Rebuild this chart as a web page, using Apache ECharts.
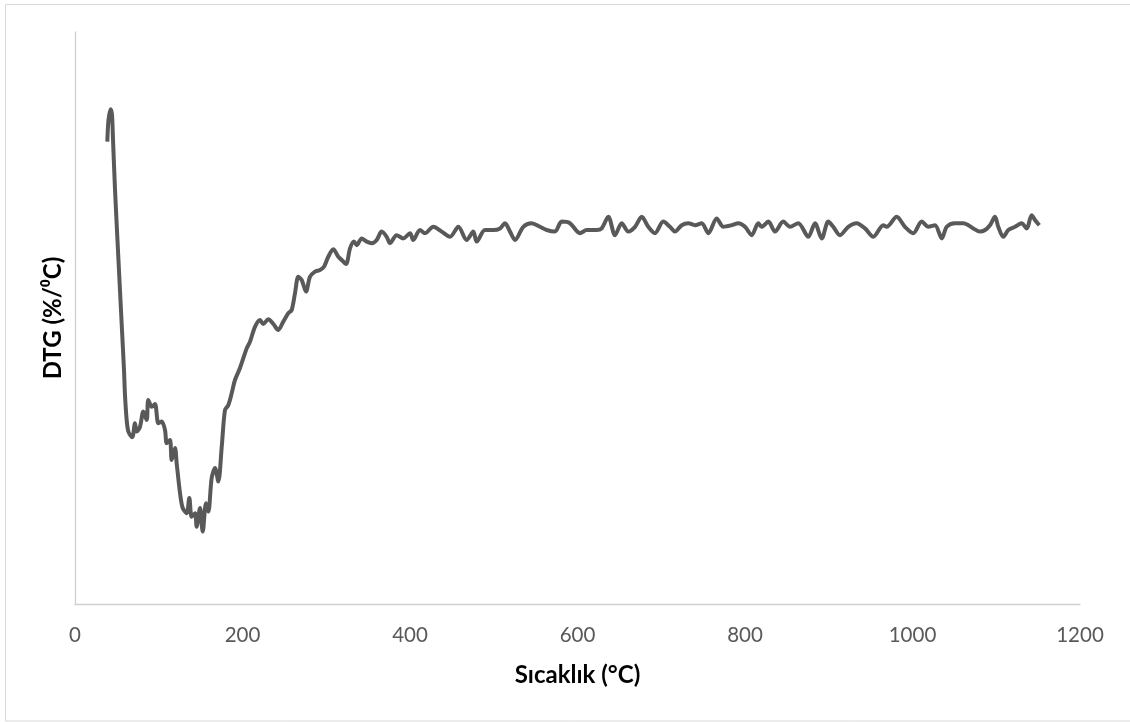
<!DOCTYPE html>
<html>
<head>
<meta charset="utf-8">
<script src="https://cdn.jsdelivr.net/npm/echarts@6/dist/echarts.min.js"></script>
<style>
html,body{margin:0;padding:0;background:#fff;}
#chart{width:1130px;height:722px;}
</style>
</head>
<body>
<div id="chart"></div>
<script>
// Temperature (°C)
const temperature = [
38.6,40.0,42.6,44.2,45.4,47.8,50.7,53.7,56.1,58.5,59.7,61.7,63.9,68.4,71.6,73.7,77.6,81.6,85.6,87.5,
91.6,95.5,99.5,103.5,107.5,109.5,113.4,115.5,119.4,121.4,125.4,128.6,133.4,136.5,139.3,143.3,145.3,149.3,152.5,156.4,
159.2,163.2,167.2,171.1,175.2,179.1,183.0,187.1,191.0,197.0,205.0,209.0,214.9,220.9,224.8,230.8,236.8,242.7,248.7,254.7,
258.7,262.7,266.6,270.7,275.8,280.6,286.6,292.5,297.3,302.4,308.4,314.4,318.4,323.6,328.4,333.1,336.4,342.3,348.3,354.3,
360.2,366.2,372.2,376.1,384.1,392.0,400.0,403.9,411.9,417.9,427.8,437.8,447.8,457.7,467.7,475.6,479.6,489.5,499.5,507.5,
513.4,519.4,525.4,535.3,545.3,555.2,563.2,573.1,581.1,591.0,603.0,611.0,622.9,628.9,636.8,644.8,652.8,660.7,668.7,676.7,
684.5,692.5,702.4,710.4,716.4,724.4,732.3,740.3,748.3,756.2,766.2,774.1,784.1,792.0,800.0,808.0,815.9,819.9,827.9,835.8,
845.7,853.7,863.6,875.6,883.6,891.6,899.5,905.4,913.4,923.3,933.3,943.3,953.2,965.1,969.2,981.1,991.0,1000.9,1011.0,1018.9,
1026.9,1034.9,1040.9,1050.7,1060.7,1066.7,1072.6,1080.6,1086.6,1092.5,1098.5,1102.4,1108.4,1114.4,1122.4,1130.3,1136.3,1142.3,1146.2,1151.4
];
// DTG (%/°C)
const dtg = [
-0.274,-0.220,-0.193,-0.208,-0.270,-0.395,-0.520,-0.645,-0.745,-0.845,-0.908,-0.970,-1.000,-1.013,-0.978,-0.999,-0.987,-0.949,-0.970,-0.920,
-0.937,-0.930,-0.978,-0.974,-0.995,-1.028,-1.020,-1.070,-1.040,-1.078,-1.153,-1.190,-1.203,-1.165,-1.212,-1.203,-1.237,-1.190,-1.249,-1.178,
-1.199,-1.115,-1.090,-1.124,-1.037,-0.945,-0.933,-0.903,-0.870,-0.840,-0.791,-0.774,-0.737,-0.720,-0.730,-0.718,-0.730,-0.745,-0.724,-0.703,
-0.695,-0.653,-0.612,-0.620,-0.649,-0.612,-0.599,-0.595,-0.587,-0.562,-0.543,-0.562,-0.570,-0.580,-0.541,-0.524,-0.533,-0.516,-0.524,-0.528,
-0.520,-0.499,-0.512,-0.528,-0.508,-0.516,-0.503,-0.520,-0.495,-0.503,-0.487,-0.499,-0.512,-0.487,-0.520,-0.499,-0.524,-0.495,-0.495,-0.491,
-0.478,-0.499,-0.520,-0.487,-0.478,-0.487,-0.495,-0.499,-0.474,-0.478,-0.503,-0.495,-0.495,-0.491,-0.462,-0.508,-0.478,-0.499,-0.487,-0.462,
-0.487,-0.503,-0.474,-0.487,-0.499,-0.483,-0.478,-0.483,-0.478,-0.503,-0.466,-0.487,-0.483,-0.478,-0.487,-0.508,-0.478,-0.487,-0.474,-0.499,
-0.474,-0.487,-0.478,-0.512,-0.478,-0.516,-0.474,-0.487,-0.508,-0.487,-0.478,-0.491,-0.512,-0.483,-0.487,-0.462,-0.487,-0.503,-0.474,-0.487,
-0.483,-0.516,-0.487,-0.478,-0.478,-0.483,-0.491,-0.499,-0.495,-0.483,-0.462,-0.487,-0.512,-0.495,-0.487,-0.478,-0.491,-0.458,-0.470,-0.483
];
const xTicks = [0, 200, 400, 600, 800, 1000, 1200];
const xTitle = 'Sıcaklık (°C)';
const yTitle = 'DTG (%/⁰C)';

const seriesData = temperature.map((t, i) => [t, dtg[i]]);
const chart = echarts.init(document.getElementById('chart'), null, {renderer: 'canvas'});
const font = 'Lato, "Open Sans", "DejaVu Sans", sans-serif';
chart.setOption({
  animation: false,
  backgroundColor: '#ffffff',
  graphic: [{
    type: 'rect', shape: {x: 5.5, y: 4.5, width: 1140, height: 716.5},
    style: {fill: 'none', stroke: '#d9d9d9', lineWidth: 1}, silent: true, z: -1
  }],
  grid: {left: 75, right: 50, top: 32, bottom: 118, containLabel: false},
  xAxis: {
    type: 'value', min: xTicks[0], max: xTicks[xTicks.length - 1], interval: 200,
    name: xTitle, nameLocation: 'middle', nameGap: 59,
    nameTextStyle: {fontFamily: font, fontWeight: 'bold', fontSize: 24, color: '#000'},
    axisLine: {show: true, onZero: false, lineStyle: {color: '#d0d0d0', width: 1.3}},
    axisTick: {show: false},
    splitLine: {show: false},
    axisLabel: {fontFamily: font, fontSize: 20.5, color: '#595959', margin: 21,
      formatter: v => String(v)}
  },
  yAxis: {
    type: 'value', min: -1.43, max: 0,
    name: yTitle, nameLocation: 'middle', nameGap: 10, nameRotate: 90,
    nameTextStyle: {fontFamily: font, fontWeight: 'bold', fontSize: 24, color: '#000'},
    axisLine: {show: true, onZero: false, lineStyle: {color: '#d0d0d0', width: 1.3}},
    axisTick: {show: false},
    axisLabel: {show: false},
    splitLine: {show: false}
  },
  series: [{
    type: 'line', data: seriesData, showSymbol: false, smooth: 0.3,
    lineStyle: {color: '#595959', width: 4},
    itemStyle: {color: '#595959'}
  }]
});
</script>
</body>
</html>
